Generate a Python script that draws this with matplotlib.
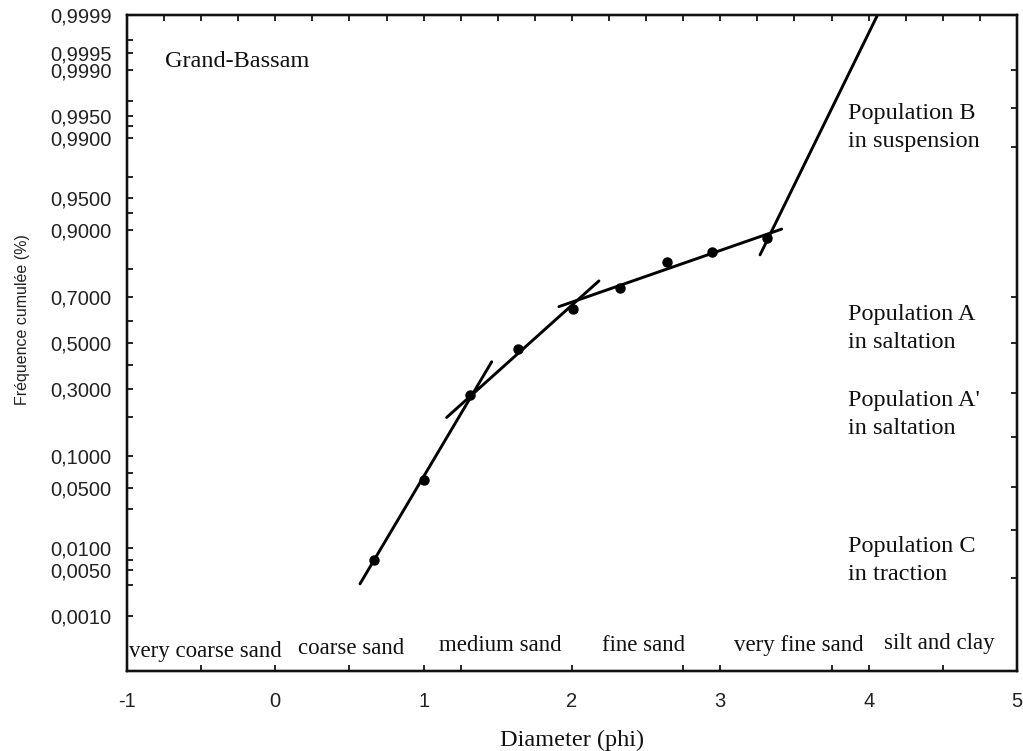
import numpy as np
import matplotlib
matplotlib.use("Agg")
import matplotlib.pyplot as plt
from statistics import NormalDist

# ---------------- data ----------------
phi = [0.667, 1.004, 1.312, 1.638, 2.005, 2.324, 2.638, 2.942, 3.313]
freq = [0.0070, 0.0598, 0.277, 0.473, 0.650, 0.733, 0.822, 0.850, 0.883]

seg_C_x = [0.571, 1.459]
seg_C_p = [0.00316, 0.4159]
seg_A2_x = [1.155, 2.182]
seg_A2_p = [0.1993, 0.7594]
seg_A_x = [1.912, 3.414]
seg_A_p = [0.660, 0.9018]
seg_B_x = [3.268, 4.06]
seg_B_p = [0.8413, 0.9999]

ytick_vals = [0.001, 0.005, 0.01, 0.05, 0.1, 0.3, 0.5, 0.7, 0.9, 0.95,
              0.99, 0.995, 0.999, 0.9995, 0.9999]
ytick_labels = ["0,0010", "0,0050", "0,0100", "0,0500", "0,1000", "0,3000",
                "0,5000", "0,7000", "0,9000", "0,9500", "0,9900", "0,9950",
                "0,9990", "0,9995", "0,9999"]
yminor_vals = [0.003, 0.007, 0.03, 0.07, 0.2, 0.4, 0.6, 0.8, 0.93, 0.97,
               0.993, 0.997, 0.9997]
right_tick_vals = [0.0038, 0.0168, 0.051, 0.143, 0.285, 0.5, 0.70,
                   0.987, 0.9962, 0.999]
xtick_vals = [-1, 0, 1, 2, 3, 4, 5]
xminor_vals = [-0.5, 0.5, 1.25, 2.75, 3.75, 4.5]
top_tick_vals = list(np.arange(-1, 5.001, 0.25))

categories = ["very coarse sand", "coarse sand", "medium sand", "fine sand",
              "very fine sand", "silt and clay"]
cat_x = [-0.474, 0.510, 1.515, 2.486, 3.530, 4.474]
cat_y = [0.029, 0.035, 0.039, 0.039, 0.039, 0.042]

pop_labels = ["Population B\nin suspension", "Population A\nin saltation",
              "Population A'\nin saltation", "Population C\nin traction"]
pop_x = [3.861, 3.861, 3.861, 3.861]
pop_p = [0.9928, 0.565, 0.210, 0.0069]

site_label = "Grand-Bassam"
site_x = -0.744
site_p = 0.99930

# ---------------- probability scale ----------------
_nd = NormalDist()
_ppf = np.vectorize(_nd.inv_cdf, otypes=[float])
_cdf = np.vectorize(_nd.cdf, otypes=[float])


def fwd(p):
    p = np.clip(np.asarray(p, dtype=float), 1e-12, 1 - 1e-12)
    return _ppf(p)


def inv(z):
    return _cdf(np.asarray(z, dtype=float))


serif = "Liberation Serif"
sans = "Liberation Sans"

fig = plt.figure(figsize=(10.23, 7.51), dpi=100)
ax = fig.add_axes([0.1241, 0.1065, 0.870, 0.8735])
ax.set_yscale("function", functions=(fwd, inv))
ax.set_ylim(0.0001, 0.9999)
ax.set_xlim(-1, 5)

# lines and points
for sx, sp in [(seg_C_x, seg_C_p), (seg_A2_x, seg_A2_p),
               (seg_A_x, seg_A_p), (seg_B_x, seg_B_p)]:
    ax.plot(sx, sp, color="black", lw=2.1, solid_capstyle="round")
ax.plot(phi, freq, "o", color="black", ms=6.5)

# ticks
ax.set_yticks(ytick_vals)
ax.set_yticklabels(ytick_labels)
ax.set_yticks(yminor_vals, minor=True)
ax.set_xticks(xtick_vals)
ax.set_xticklabels([str(v) for v in xtick_vals])
ax.set_xticks(xminor_vals, minor=True)
ax.tick_params(which="both", direction="in", length=4, width=1.2,
               colors="black")
ax.tick_params(axis="y", which="major", pad=11, labelsize=14.5)
ax.tick_params(axis="x", which="major", pad=15, labelsize=14.5)
for lab in ax.get_xticklabels() + ax.get_yticklabels():
    lab.set_fontfamily(sans)
    lab.set_color("#222222")
ax.yaxis.set_minor_formatter(plt.NullFormatter())
ax.xaxis.set_minor_formatter(plt.NullFormatter())

axr = ax.twinx()
axr.set_yscale("function", functions=(fwd, inv))
axr.set_ylim(ax.get_ylim())
axr.set_yticks(right_tick_vals)
axr.set_yticklabels([])
axr.yaxis.set_minor_locator(plt.NullLocator())
axr.tick_params(direction="in", length=4, width=1.2)

axt = ax.twiny()
axt.set_xlim(ax.get_xlim())
axt.set_xticks(top_tick_vals)
axt.set_xticklabels([])
axt.tick_params(direction="in", length=4, width=1.2)

for a in (ax, axr, axt):
    for s in a.spines.values():
        s.set_linewidth(1.6)
        s.set_color("#111111")

ax.set_ylabel("Fréquence cumulée (%)", fontfamily=sans, fontsize=11.5,
              color="#222222")
ax.yaxis.set_label_coords(-0.109, 0.535)
ax.set_xlabel("Diameter (phi)", fontfamily=serif, fontsize=17.5,
              color="#111111", labelpad=14)

# texts
ax.text(site_x, site_p, site_label, fontfamily=serif, fontsize=17.5,
        ha="left", va="center", color="#111111")
for lab, x, p in zip(pop_labels, pop_x, pop_p):
    ax.text(x, p, lab, fontfamily=serif, fontsize=17.5, ha="left",
            va="center", color="#111111", linespacing=1.45)
for lab, x, y in zip(categories, cat_x, cat_y):
    ax.text(x, y, lab, transform=ax.get_xaxis_transform(), fontfamily=serif,
            fontsize=16.5, ha="center", va="center", color="#111111")

fig.savefig("out.png", dpi=100)
